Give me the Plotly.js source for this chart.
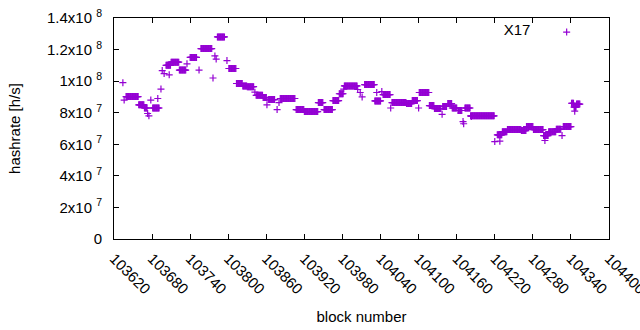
<!DOCTYPE html>
<html>
<head>
<meta charset="utf-8">
<script src="https://cdn.plot.ly/plotly-3.0.1.min.js"></script>
<style>html,body{margin:0;padding:0;background:#fff;}#chart{width:640px;height:330px;}</style>
</head>
<body>
<div id="chart"></div>
<script>
// Runs of consecutive blocks sharing the same hashrate
const runStart = [103639,103659,103668,103681,103702,103710,103723,103740,103757,103783,103801,103813,103823,103830,103844,103855,103863,103882,103907,103920,103942,103951,103965,103975,103983,104015,104031,104044,104058,104081,104090,104101,104117,104125,104138,104146,104153,104162,104173,104182,104224,104232,104240,104262,104270,104281,104297,104305,104317,104328,104341,104345,104349];
const runEnd   = [103658,103667,103672,103691,103709,103722,103733,103750,103774,103794,103812,103822,103829,103840,103854,103860,103873,103905,103919,103941,103949,103964,103974,103981,104003,104030,104040,104055,104080,104089,104098,104116,104124,104135,104144,104152,104160,104168,104181,104219,104231,104239,104261,104269,104280,104296,104304,104316,104324,104340,104344,104348,104354];
const runValue = [90.2e6,85e6,83e6,83e6,110e6,112e6,107e6,115e6,120.6e6,128e6,108e6,98.5e6,97e6,96.5e6,91e6,89.6e6,88.3e6,89e6,82e6,80.7e6,86.4e6,82e6,87.7e6,92e6,97e6,97.8e6,87.5e6,91.5e6,86.4e6,85.8e6,87.7e6,92.8e6,84.5e6,82.6e6,84e6,85.8e6,83e6,81.4e6,83e6,78e6,66e6,68e6,69.3e6,68.7e6,71.2e6,69.3e6,65.5e6,68e6,69.6e6,71.2e6,86e6,83.5e6,85.5e6];
// Single outlying blocks
const pointBlock = [103634,103636,103673,103675,103678,103689,103694,103696,103699,103707,103735,103754,103776,103779,103781,103798,103842,103861,103877,103880,103982,104004,104008,104011,104034,104042,104056,104100,104137,104170,104171,104183,104220,104228,104299,104326,104346];
const pointValue = [99e6,88e6,79.5e6,78e6,88e6,89e6,95e6,106.7e6,104.8e6,104e6,111e6,107e6,102e6,116e6,114e6,113e6,93e6,85e6,82e6,86.4e6,95e6,94.7e6,92.8e6,90e6,92.8e6,93.4e6,83e6,83e6,79e6,74.4e6,73e6,77.6e6,61.7e6,62e6,62.4e6,65.5e6,81e6];

const xTickVals = [103620,103680,103740,103800,103860,103920,103980,104040,104100,104160,104220,104280,104340,104400];
const xTickText = ['103620','103680','103740','103800','103860','103920','103980','104040','104100','104160','104220','104280','104340','104400'];
const yTickVals = [0,2e7,4e7,6e7,8e7,1e8,1.2e8,1.4e8];
const yTickText = ['0','2x10 <sup>7</sup>','4x10 <sup>7</sup>','6x10 <sup>7</sup>','8x10 <sup>7</sup>','1x10 <sup>8</sup>','1.2x10 <sup>8</sup>','1.4x10 <sup>8</sup>'];

const xs = [], ys = [];
for (let i = 0; i < runStart.length; i++) {
  for (let b = runStart[i]; b <= runEnd[i]; b++) { xs.push(b); ys.push(runValue[i]); }
}
for (let i = 0; i < pointBlock.length; i++) { xs.push(pointBlock[i]); ys.push(pointValue[i]); }

const FONT = {family: 'Liberation Sans, Arial, sans-serif', size: 15, color: '#000'};
const trace = {
  x: xs, y: ys, type: 'scatter', mode: 'markers', name: ' ',
  marker: {symbol: 'cross-thin', size: 5, color: '#9400d3', line: {color: '#9400d3', width: 1.2}}
};
const axisCommon = {
  showline: true, linecolor: '#000', linewidth: 1, mirror: 'ticks',
  ticks: 'inside', ticklen: 5, tickcolor: '#000', tickwidth: 1,
  showgrid: false, zeroline: false, tickfont: FONT, tickmode: 'array'
};
const layout = {
  width: 640, height: 330,
  margin: {l: 114, r: 31, t: 18, b: 91},
  paper_bgcolor: '#fff', plot_bgcolor: '#fff',
  font: FONT,
  showlegend: true,
  legend: {x: 0.975, xanchor: 'right', y: 1.01, yanchor: 'top', bgcolor: 'rgba(0,0,0,0)',
           title: {text: 'X17\u00a0\u00a0', side: 'left', font: FONT}, font: FONT, itemwidth: 30},
  xaxis: Object.assign({}, axisCommon, {
    range: [103620, 104400], tickvals: xTickVals, ticktext: xTickText, tickangle: 45,
    ticklabelstandoff: 4, ticklabeloverflow: 'allow',
    title: {text: 'block number', font: FONT, standoff: 15}
  }),
  yaxis: Object.assign({}, axisCommon, {
    range: [0, 1.4e8], tickvals: yTickVals, ticktext: yTickText,
    ticklabelstandoff: 8,
    title: {text: 'hashrate [h/s]', font: FONT, standoff: 22}
  })
};
Plotly.newPlot('chart', [trace], layout, {staticPlot: true, displayModeBar: false});
</script>
</body>
</html>
